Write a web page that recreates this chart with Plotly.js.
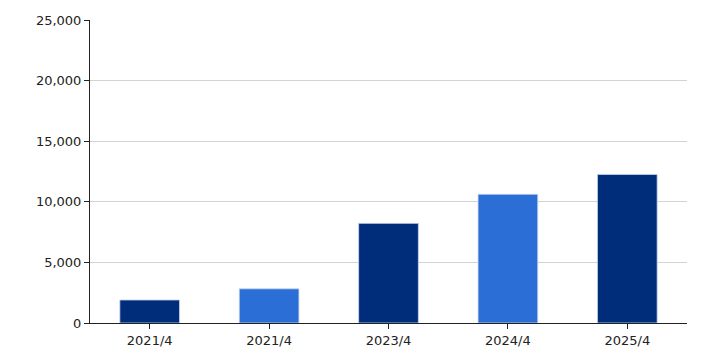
<!DOCTYPE html>
<html>
<head>
<meta charset="utf-8">
<script src="https://cdn.plot.ly/plotly-3.0.1.min.js"></script>
<style>html,body{margin:0;padding:0;background:#fff;}#chart{width:706px;height:353px;}</style>
</head>
<body>
<div id="chart"></div>
<script>
var categories = ["2021/4", "2021/4", "2023/4", "2024/4", "2025/4"];
var values = [1900, 2820, 8220, 10620, 12260];
var barColors = ["#002D7A", "#2A6ED6", "#002D7A", "#2A6ED6", "#002D7A"];
var yTickVals = [0, 5000, 10000, 15000, 20000, 25000];
var yTickText = ["0", "5,000", "10,000", "15,000", "20,000", "25,000"];

var positions = categories.map(function (_, i) { return i; });

var trace = {
  type: "bar",
  x: positions,
  y: values,
  width: 0.5,
  marker: { color: barColors, line: { color: "rgba(200,215,240,0.8)", width: 1 } },
  hoverinfo: "y"
};

var layout = {
  width: 706,
  height: 353,
  margin: { l: 90, r: 19, t: 20, b: 30 },
  paper_bgcolor: "#ffffff",
  plot_bgcolor: "#ffffff",
  showlegend: false,
  font: { family: "DejaVu Sans, Verdana, sans-serif", size: 13, color: "#222" },
  xaxis: {
    range: [-0.5, 4.5],
    tickmode: "array",
    tickvals: positions,
    ticktext: categories,
    showline: true,
    linecolor: "#222",
    linewidth: 1,
    ticks: "outside",
    ticklen: 5,
    tickcolor: "#222",
    showgrid: false,
    zeroline: false,
    fixedrange: true
  },
  yaxis: {
    range: [0, 25000],
    tickmode: "array",
    tickvals: yTickVals,
    ticktext: yTickText,
    showline: true,
    linecolor: "#222",
    linewidth: 1,
    ticks: "outside",
    ticklen: 5,
    tickcolor: "#222",
    showgrid: true,
    gridcolor: "#d3d3d3",
    gridwidth: 1,
    zeroline: false,
    fixedrange: true
  }
};

Plotly.newPlot("chart", [trace], layout, { displayModeBar: false, staticPlot: true });
</script>
</body>
</html>
